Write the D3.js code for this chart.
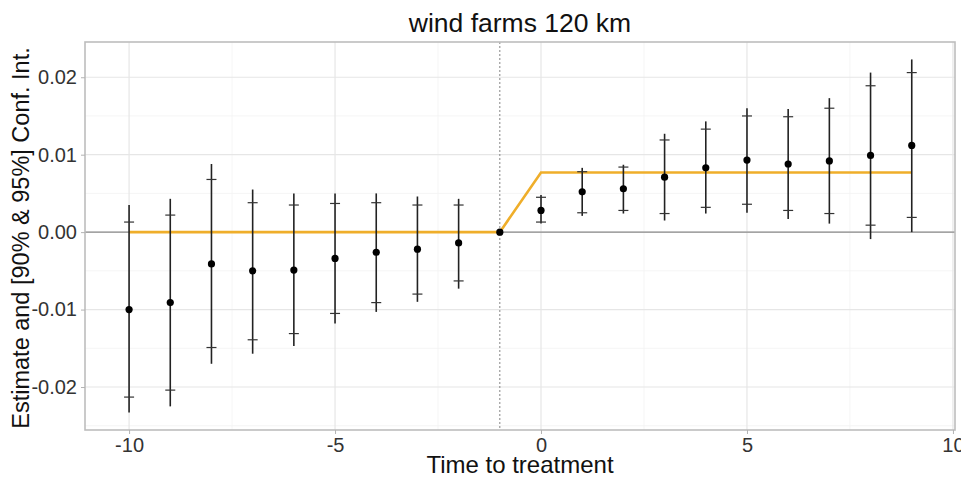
<!DOCTYPE html>
<html lang="en">
<head>
<meta charset="UTF-8">
<title>wind farms 120 km</title>
<script src="https://cdnjs.cloudflare.com/ajax/libs/d3/7.8.5/d3.min.js"></script>
<style>
    body { margin: 0; background: #fff; }
    svg { display: block; font-family: "Liberation Sans", Arial, sans-serif; }
</style>
</head>
<body>
<svg id="chart" width="961" height="478"></svg>
<script>
// event-study estimates by period relative to treatment
const periods = [-10, -9, -8, -7, -6, -5, -4, -3, -2, -1, 0, 1, 2, 3, 4, 5, 6, 7, 8, 9];
const estimate = [-0.0100, -0.0091, -0.0041, -0.0050, -0.0049, -0.0034, -0.0026, -0.0022, -0.0014, 0,
                  0.0028, 0.0052, 0.0056, 0.0071, 0.0083, 0.0093, 0.0088, 0.0092, 0.0099, 0.0112];
const lo95 = [-0.0233, -0.0225, -0.0170, -0.0157, -0.0147, -0.0118, -0.0103, -0.0090, -0.0073, null,
              0.0011, 0.0021, 0.0024, 0.0015, 0.0024, 0.0025, 0.0017, 0.0011, -0.0009, 0.0000];
const hi95 = [0.0035, 0.0043, 0.0088, 0.0055, 0.0050, 0.0050, 0.0050, 0.0046, 0.0043, null,
              0.0048, 0.0083, 0.0087, 0.0127, 0.0143, 0.0160, 0.0159, 0.0173, 0.0206, 0.0223];
const lo90 = [-0.0213, -0.0204, -0.0149, -0.0139, -0.0131, -0.0105, -0.0091, -0.0080, -0.0063, null,
              0.0013, 0.0025, 0.0028, 0.0024, 0.0032, 0.0036, 0.0028, 0.0024, 0.0009, 0.0019];
const hi90 = [0.0013, 0.0022, 0.0068, 0.0038, 0.0035, 0.0037, 0.0038, 0.0035, 0.0035, null,
              0.0045, 0.0078, 0.0084, 0.0119, 0.0133, 0.0150, 0.0149, 0.0160, 0.0189, 0.0206];
// true effect (orange line)
const trueEffect = [0, 0, 0, 0, 0, 0, 0, 0, 0, 0,
                    0.0077, 0.0077, 0.0077, 0.0077, 0.0077, 0.0077, 0.0077, 0.0077, 0.0077, 0.0077];

const xTicks = [-10, -5, 0, 5, 10];
const xMinor = [-7.5, -2.5, 2.5, 7.5];
const yTicks = [-0.02, -0.01, 0, 0.01, 0.02];
const yMinor = [-0.025, -0.015, -0.005, 0.005, 0.015];

const panel = {left: 85, right: 955, top: 42, bottom: 430};
const svg = d3.select("#chart");

const x = d3.scaleLinear().domain([-11.07, 10.05]).range([panel.left, panel.right]);
const y = d3.scaleLinear().domain([-0.02555, 0.02455]).range([panel.bottom, panel.top]);

// grid
svg.append("g").selectAll("line").data(xMinor).enter().append("line")
    .attr("x1", d => x(d)).attr("x2", d => x(d))
    .attr("y1", panel.top).attr("y2", panel.bottom)
    .attr("stroke", "#f2f2f2").attr("stroke-width", 0.8);
svg.append("g").selectAll("line").data(yMinor).enter().append("line")
    .attr("x1", panel.left).attr("x2", panel.right)
    .attr("y1", d => y(d)).attr("y2", d => y(d))
    .attr("stroke", "#f2f2f2").attr("stroke-width", 0.8);
svg.append("g").selectAll("line").data(xTicks).enter().append("line")
    .attr("x1", d => x(d)).attr("x2", d => x(d))
    .attr("y1", panel.top).attr("y2", panel.bottom)
    .attr("stroke", "#e6e6e6").attr("stroke-width", 1.2);
svg.append("g").selectAll("line").data(yTicks).enter().append("line")
    .attr("x1", panel.left).attr("x2", panel.right)
    .attr("y1", d => y(d)).attr("y2", d => y(d))
    .attr("stroke", "#e6e6e6").attr("stroke-width", 1.2);

// zero line and treatment marker
svg.append("line")
    .attr("x1", panel.left).attr("x2", panel.right)
    .attr("y1", y(0)).attr("y2", y(0))
    .attr("stroke", "#8c8c8c").attr("stroke-width", 1.4);
svg.append("line")
    .attr("x1", x(-1)).attr("x2", x(-1))
    .attr("y1", panel.top).attr("y2", panel.bottom)
    .attr("stroke", "#777").attr("stroke-width", 0.9)
    .attr("stroke-dasharray", "2,2");

// true effect line
svg.append("path")
    .datum(periods.map((p, i) => [p, trueEffect[i]]))
    .attr("fill", "none")
    .attr("stroke", "#efae2a")
    .attr("stroke-width", 2.6)
    .attr("d", d3.line().x(d => x(d[0])).y(d => y(d[1])));

// confidence intervals
const ci = periods.map((p, i) => ({p, est: estimate[i], lo95: lo95[i], hi95: hi95[i], lo90: lo90[i], hi90: hi90[i]}))
    .filter(d => d.lo95 !== null);

svg.append("g").selectAll("line").data(ci).enter().append("line")
    .attr("x1", d => x(d.p)).attr("x2", d => x(d.p))
    .attr("y1", d => y(d.lo95)).attr("y2", d => y(d.hi95))
    .attr("stroke", "#222").attr("stroke-width", 1.6);

const tickW = 5;
["lo90", "hi90"].forEach(k => {
    svg.append("g").selectAll("line").data(ci).enter().append("line")
        .attr("x1", d => x(d.p) - tickW).attr("x2", d => x(d.p) + tickW)
        .attr("y1", d => y(d[k])).attr("y2", d => y(d[k]))
        .attr("stroke", "#333").attr("stroke-width", 1.2);
});

// estimates
svg.append("g").selectAll("circle").data(periods).enter().append("circle")
    .attr("cx", d => x(d))
    .attr("cy", (d, i) => y(estimate[i]))
    .attr("r", 3.6)
    .attr("fill", "#000");

// panel border
svg.append("rect")
    .attr("x", panel.left).attr("y", panel.top)
    .attr("width", panel.right - panel.left).attr("height", panel.bottom - panel.top)
    .attr("fill", "none").attr("stroke", "#bdbdbd").attr("stroke-width", 1.6);

// axes (plain hyphen for negatives, like the original)
const xAxis = svg.append("g")
    .attr("transform", `translate(0,${panel.bottom})`)
    .call(d3.axisBottom(x).tickValues(xTicks).tickSize(4).tickPadding(4).tickFormat(d => String(d)));
const yAxis = svg.append("g")
    .attr("transform", `translate(${panel.left},0)`)
    .call(d3.axisLeft(y).tickValues(yTicks).tickSize(4).tickPadding(4).tickFormat(d => d.toFixed(2)));
[xAxis, yAxis].forEach(a => {
    a.select(".domain").remove();
    a.selectAll(".tick line").attr("stroke", "#b3b3b3");
    a.selectAll(".tick text").attr("fill", "#333").style("font-size", "20px")
        .style("font-family", "'Liberation Sans', Arial, sans-serif");
});

// titles
svg.append("text")
    .attr("x", (panel.left + panel.right) / 2).attr("y", 32)
    .attr("text-anchor", "middle")
    .style("font-size", "26.5px").attr("fill", "#111")
    .text("wind farms 120 km");
svg.append("text")
    .attr("x", (panel.left + panel.right) / 2).attr("y", 473)
    .attr("text-anchor", "middle")
    .style("font-size", "24px").attr("fill", "#111")
    .text("Time to treatment");
svg.append("text")
    .attr("transform", `translate(29,${(panel.top + panel.bottom) / 2 + 2}) rotate(-90)`)
    .attr("text-anchor", "middle")
    .style("font-size", "23.5px").attr("fill", "#111")
    .text("Estimate and [90% & 95%] Conf. Int.");
</script>
</body>
</html>
